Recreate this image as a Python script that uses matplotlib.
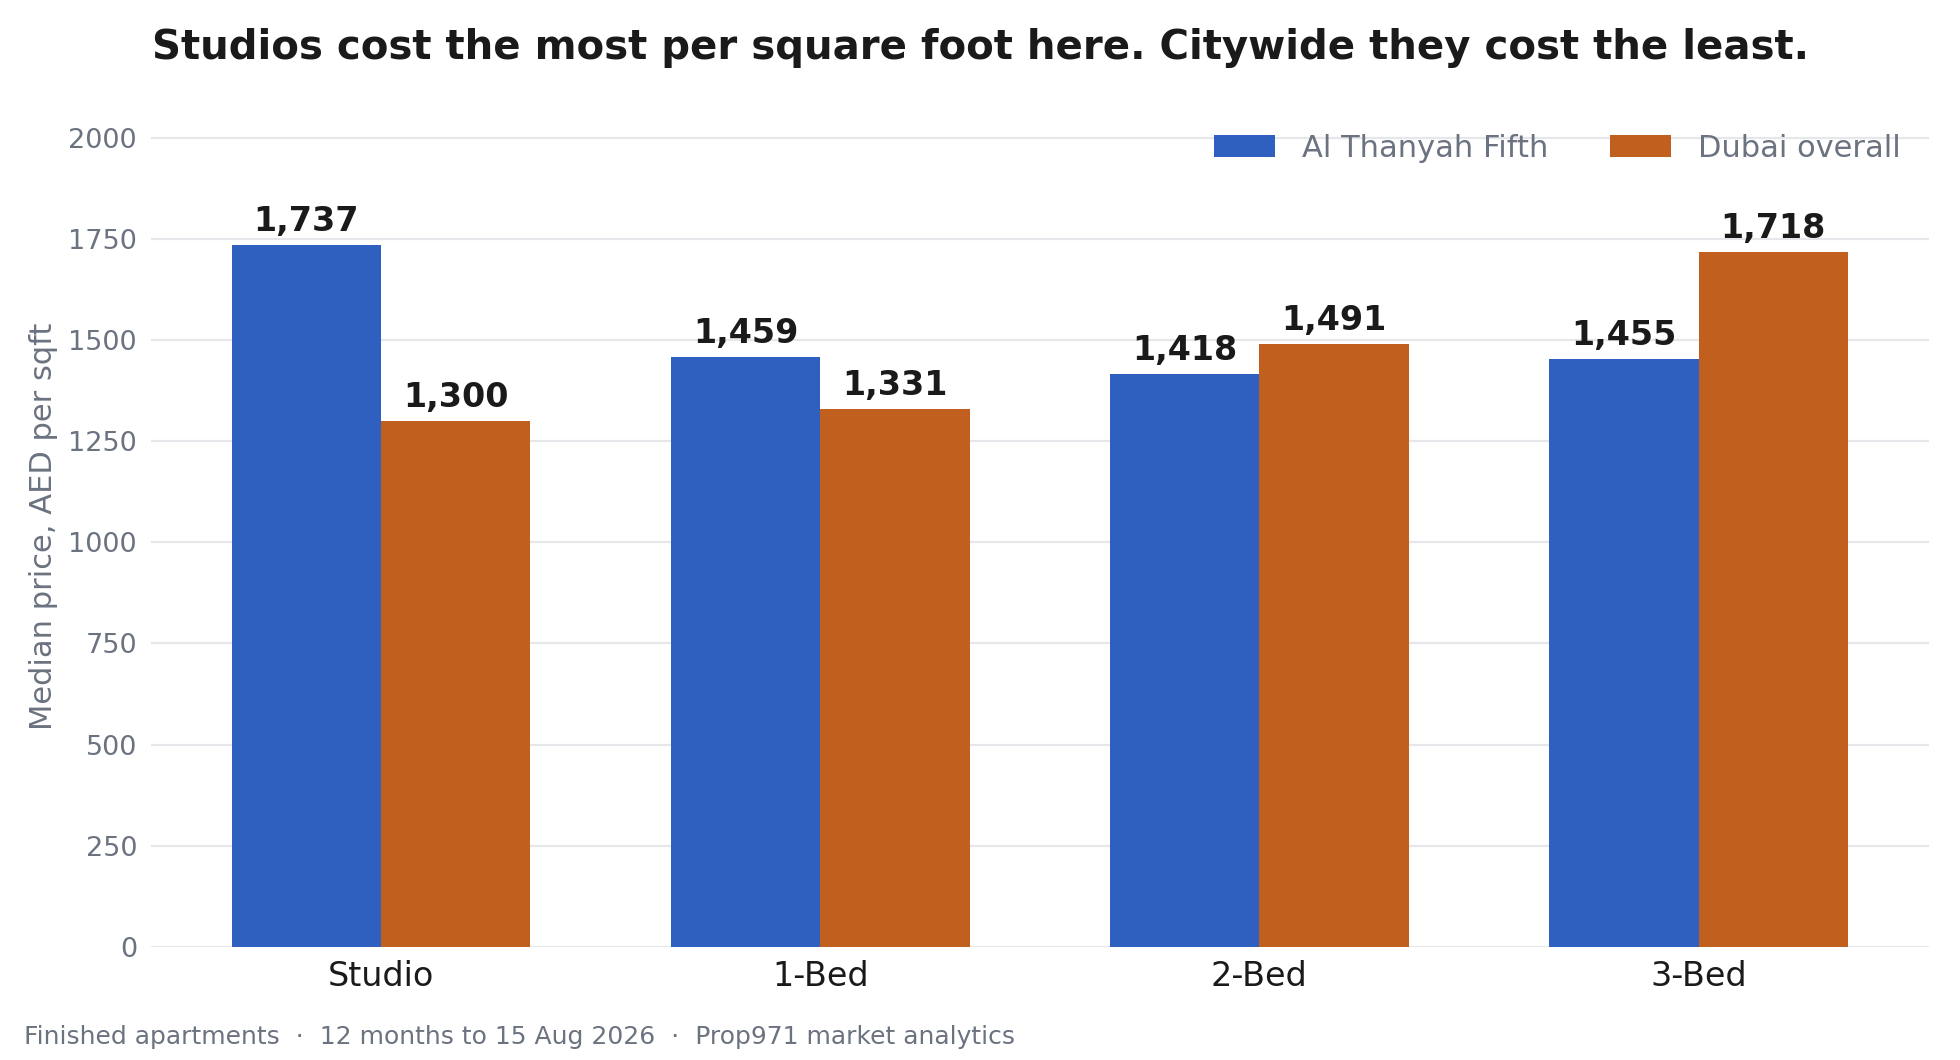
import numpy as np
import matplotlib
matplotlib.use("Agg")
import matplotlib.pyplot as plt

categories = ["Studio", "1-Bed", "2-Bed", "3-Bed"]
al_thanyah = [1737, 1459, 1418, 1455]
dubai = [1300, 1331, 1491, 1718]
series_names = ["Al Thanyah Fifth", "Dubai overall"]
yticks = [0, 250, 500, 750, 1000, 1250, 1500, 1750, 2000]

blue = "#2f5fbf"
orange = "#c05f1e"
dark = "#1a1a1a"
gray = "#6b7280"
grid = "#e5e7eb"

fig = plt.figure(figsize=(19.6, 10.6), dpi=100)
ax = fig.add_axes([0.077, 0.107, 0.907, 0.793])

x = np.arange(len(categories))
w = 0.34
b1 = ax.bar(x - w / 2, al_thanyah, w, color=blue, label=series_names[0], zorder=2)
b2 = ax.bar(x + w / 2, dubai, w, color=orange, label=series_names[1], zorder=2)

for bars in (b1, b2):
    for r in bars:
        ax.annotate(f"{int(r.get_height()):,}", (r.get_x() + r.get_width() / 2, r.get_height()),
                    xytext=(0, 5), textcoords="offset points", ha="center", va="bottom",
                    fontsize=24, fontweight="bold", color=dark)

ax.set_ylim(0, 2080)
ax.set_yticks(yticks)
ax.set_xticks(x)
ax.set_xticklabels(categories, fontsize=24, color=dark)
ax.tick_params(axis="y", labelsize=19.5, labelcolor=gray, length=0, pad=10)
ax.tick_params(axis="x", length=0, pad=10)
ax.grid(axis="y", color=grid, linewidth=1.6, zorder=0)
for s in ax.spines.values():
    s.set_visible(False)
ax.set_ylabel("Median price, AED per sqft", fontsize=22, color=gray)
ax.yaxis.set_label_coords(-0.052, 0.5)

leg = ax.legend(loc="upper right", ncol=2, frameon=False, fontsize=22,
                handlelength=2.0, handleheight=0.75, handletextpad=0.9,
                columnspacing=2.0, bbox_to_anchor=(1.0, 1.0))
for t in leg.get_texts():
    t.set_color(gray)

fig.suptitle("Studios cost the most per square foot here. Citywide they cost the least.",
             x=0.5, y=0.955, va="center", fontsize=29, fontweight="bold", color=dark)
fig.text(0.012, 0.022, "Finished apartments  \u00b7  12 months to 15 Aug 2026  \u00b7  Prop971 market analytics",
         fontsize=18, color=gray, va="center", ha="left")

fig.savefig("out.png", dpi=100)
